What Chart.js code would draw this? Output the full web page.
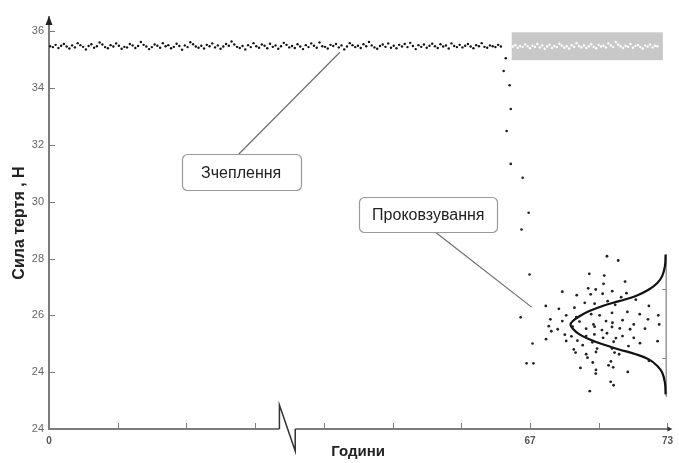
<!DOCTYPE html>
<html><head><meta charset="utf-8">
<script src="https://cdn.jsdelivr.net/npm/chart.js@4.4.1/dist/chart.umd.min.js"></script>
<style>html,body{margin:0;padding:0;background:#fff}#wrap{width:679px;height:463px}</style>
</head><body><div id="wrap"><canvas id="c" width="679" height="463"></canvas></div>
<script>
// ---- axis ticks ----
const yTickValues = [22, 24, 26, 28, 30, 32, 34, 36];
const yTickLabels = ['24', '24', '26', '28', '30', '32', '34', '36'];
const xTickValues = [46, 49, 52, 55, 58, 61, 64, 67, 70, 73];
const xTickLabels = ['0', '', '', '', '', '', '', '67', '', '73'];
const xAxisBreak = [56.06, 56.75];

// ---- grip (Зчеплення) regime: force sampled at a regular interval ----
const gripStartHour = 46.05;
const gripStepHour = 0.12;
const gripForce = [
35.47,35.44,35.52,35.41,35.49,35.55,35.46,35.39,35.50,35.43,
35.58,35.51,35.45,35.36,35.48,35.54,35.42,35.47,35.60,35.53,
35.44,35.40,35.51,35.46,35.57,35.49,35.38,35.45,35.43,35.55,
35.50,35.41,35.48,35.62,35.52,35.46,35.37,35.44,35.53,35.49,
35.42,35.58,35.47,35.51,35.40,35.45,35.56,35.48,35.35,35.50,
35.44,35.61,35.54,35.46,35.42,35.49,35.39,35.52,35.47,35.57,
35.43,35.50,35.38,35.46,35.55,35.49,35.64,35.53,35.45,35.41,
35.48,35.36,35.51,35.44,35.58,35.47,35.42,35.53,35.49,35.40,
35.56,35.45,35.50,35.38,35.47,35.59,35.52,35.43,35.48,35.41,
35.54,35.46,35.37,35.51,35.44,35.57,35.49,35.42,35.60,35.47,
35.45,35.39,35.52,35.48,35.55,35.43,35.50,35.36,35.46,35.58,
35.51,35.44,35.49,35.41,35.54,35.47,35.62,35.50,35.43,35.38,
35.48,35.53,35.45,35.57,35.42,35.49,35.40,35.52,35.46,35.55,
35.44,35.59,35.48,35.37,35.51,35.45,35.53,35.42,35.49,35.56,
35.47,35.41,35.54,35.46,35.50,35.39,35.57,35.48,35.44,35.52,
35.43,35.49,35.55,35.46,35.40,35.51,35.47,35.58,35.45,35.42,
35.50,35.47,35.44,35.52,35.46];

// ---- continued grip level shown in the grey band ----
const bandRange = [66.2, 72.8, 34.98, 35.96]; // hour from, hour to, force from, force to
const bandStartHour = 66.25;
const bandStepHour = 0.107;
const bandForce = [
35.46,35.51,35.42,35.48,35.44,35.53,35.47,35.40,35.49,35.45,
35.55,35.43,35.50,35.38,35.46,35.52,35.41,35.48,35.44,35.56,
35.49,35.42,35.47,35.39,35.51,35.45,35.58,35.48,35.43,35.50,
35.41,35.47,35.54,35.45,35.40,35.52,35.46,35.49,35.43,35.57,
35.50,35.44,35.62,35.53,35.47,35.41,35.49,35.45,35.55,35.42,
35.48,35.51,35.44,35.39,35.50,35.46,35.53,35.43,35.49,35.47];

// ---- transition drop ----
const transitionHours = [65.94,65.85,66.11,66.16,65.98,66.16,66.68,66.94,66.63,66.98,66.59,67.11,66.85,67.15];
const transitionForce = [35.05,34.60,34.10,33.26,32.49,31.33,30.84,29.61,29.02,27.44,25.93,25.01,24.31,24.31];

// ---- slip (Проковзування) cloud ----
const slipHours = [
70.36,70.85,69.59,70.24,71.15,70.21,68.41,69.54,69.87,70.59,71.21,69.04,69.65,70.17,70.98,71.62,
67.69,68.26,68.94,69.39,69.82,70.39,70.72,72.19,71.25,68.58,69.02,69.67,70.04,70.58,71.79,72.60,
67.89,68.41,69.16,69.77,70.32,70.60,71.04,71.53,72.15,67.82,68.21,68.86,69.45,69.82,70.14,70.58,
70.92,71.37,72.02,72.64,67.93,68.52,68.81,69.45,69.81,70.36,70.75,71.04,71.53,67.70,68.58,69.07,
69.72,70.19,70.65,71.30,71.80,72.57,68.91,69.30,69.93,70.58,70.89,68.99,69.45,69.88,70.69,69.51,
69.74,70.53,70.43,72.19,69.20,69.88,70.63,71.27,69.87,70.52,70.65,69.61];
const slipForce = [
28.08,27.93,27.46,27.40,27.19,27.11,26.83,26.95,26.91,26.85,26.78,26.71,26.74,26.76,26.64,26.55,
26.33,26.23,26.27,26.44,26.41,26.50,26.37,26.33,26.12,26.00,25.94,26.04,26.00,26.09,26.04,26.00,
25.86,25.80,25.78,25.68,25.80,25.74,25.83,25.68,25.86,25.62,25.51,25.60,25.53,25.60,25.48,25.59,
25.54,25.51,25.53,25.68,25.44,25.32,25.26,25.27,25.33,25.37,25.20,25.27,25.21,25.16,25.10,25.11,
25.05,25.21,25.07,24.92,25.02,25.09,24.80,24.95,24.83,24.83,24.63,24.69,24.63,24.71,24.69,24.51,
24.34,24.38,24.24,24.40,24.15,24.08,24.17,24.01,23.95,23.66,23.54,23.33];

// ---- distribution curve of the slip force ----
const bellHours = [72.92,72.89,72.77,72.56,72.19,71.62,70.89,70.17,69.59,69.16,68.87,68.77,
                   68.87,69.16,69.59,70.17,70.89,71.62,72.19,72.56,72.77,72.89,72.92];
const bellForce = [28.14,27.73,27.38,27.14,26.91,26.68,26.50,26.33,26.15,25.97,25.80,25.68,
                   25.53,25.33,25.16,24.98,24.80,24.63,24.45,24.22,23.99,23.63,23.22];
const bellAxisHour = 72.95;
const bellAxisForce = [28.13, 23.13];
const bellAxisTicks = [26.94, 24.49];

// ---- callouts ----
const calloutText = ['Зчеплення', 'Проковзування'];
const calloutHour = [54.39, 62.56];
const calloutForce = [31.04, 29.55];
const leaderFromHour = [54.28, 62.86];
const leaderFromForce = [31.67, 28.93];
const leaderToHour = [58.70, 67.07];
const leaderToForce = [35.26, 26.29];

// ---- build datasets ----
const gripPts = gripForce.map((v, i) => ({x: gripStartHour + i * gripStepHour, y: v}));
const bandPts = bandForce.map((v, i) => ({x: bandStartHour + i * bandStepHour, y: v}));
const transPts = transitionHours.map((h, i) => ({x: h, y: transitionForce[i]}));
const slipPts = slipHours.map((h, i) => ({x: h, y: slipForce[i]}));
const bellPts = bellHours.map((h, i) => ({x: h, y: bellForce[i]}));
const bellAxisPts = bellAxisForce.map(f => ({x: bellAxisHour, y: f}));

const FONT = '"Liberation Sans", Arial, sans-serif';
const AXIS_COLOR = '#7c7c7c';

const decor = {
  id: 'decor',
  beforeDatasetsDraw(chart) {
    const {ctx, scales: {x, y}} = chart;
    ctx.save();
    ctx.fillStyle = '#c8c8c8';
    const x0 = x.getPixelForValue(bandRange[0]), x1 = x.getPixelForValue(bandRange[1]);
    const y0 = y.getPixelForValue(bandRange[3]), y1 = y.getPixelForValue(bandRange[2]);
    ctx.fillRect(x0, y0, x1 - x0, y1 - y0);
    ctx.restore();
  },
  afterDatasetsDraw(chart) {
    const {ctx, scales: {x, y}} = chart;
    ctx.save();
    // bell axis ticks
    ctx.strokeStyle = '#888';
    ctx.lineWidth = 1;
    bellAxisTicks.forEach(f => {
      const py = Math.round(y.getPixelForValue(f)) + 0.5;
      const px = x.getPixelForValue(bellAxisHour);
      ctx.beginPath(); ctx.moveTo(px - 4, py); ctx.lineTo(px, py); ctx.stroke();
    });
    // callouts
    const sizes = [[119, 36], [138, 35]];
    calloutText.forEach((t, i) => {
      ctx.strokeStyle = '#6e6e6e';
      ctx.lineWidth = 1.2;
      ctx.beginPath();
      ctx.moveTo(x.getPixelForValue(leaderFromHour[i]), y.getPixelForValue(leaderFromForce[i]));
      ctx.lineTo(x.getPixelForValue(leaderToHour[i]), y.getPixelForValue(leaderToForce[i]));
      ctx.stroke();
      const cx = x.getPixelForValue(calloutHour[i]), cy = y.getPixelForValue(calloutForce[i]);
      const [w, h] = sizes[i];
      ctx.beginPath();
      ctx.roundRect(Math.round(cx - w / 2) + 0.5, Math.round(cy - h / 2) + 0.5, w, h, 5);
      ctx.fillStyle = '#fff';
      ctx.fill();
      ctx.strokeStyle = '#9a9a9a';
      ctx.lineWidth = 1.2;
      ctx.stroke();
      ctx.fillStyle = '#222';
      ctx.font = '16px ' + FONT;
      ctx.textAlign = 'center';
      ctx.textBaseline = 'middle';
      ctx.fillText(t, cx, cy + 1);
    });
    ctx.restore();
  },
  afterDraw(chart) {
    const {ctx, chartArea: a, scales: {x, y}} = chart;
    ctx.save();
    ctx.strokeStyle = AXIS_COLOR;
    // y arrow
    ctx.beginPath();
    ctx.moveTo(a.left, a.top - 1);
    ctx.lineTo(a.left - 3.5, a.top + 8);
    ctx.lineTo(a.left + 3.5, a.top + 8);
    ctx.closePath();
    ctx.fillStyle = '#222';
    ctx.fill();
    // y inner ticks
    ctx.lineWidth = 1;
    yTickValues.forEach(v => {
      const py = Math.round(y.getPixelForValue(v)) + 0.5;
      ctx.beginPath(); ctx.moveTo(a.left + 1, py); ctx.lineTo(a.left + 6, py); ctx.stroke();
    });
    // x axis with break
    const b0 = x.getPixelForValue(xAxisBreak[0]), b1 = x.getPixelForValue(xAxisBreak[1]);
    const yb = a.bottom;
    ctx.lineWidth = 2;
    ctx.beginPath();
    ctx.moveTo(a.left - 1, yb); ctx.lineTo(b0, yb);
    ctx.moveTo(b1, yb); ctx.lineTo(a.right + 2, yb);
    ctx.stroke();
    ctx.strokeStyle = '#333';
    ctx.lineWidth = 1.5;
    ctx.beginPath();
    ctx.moveTo(b0, yb); ctx.lineTo(b0, yb - 24); ctx.lineTo(b1, yb + 22); ctx.lineTo(b1, yb);
    ctx.stroke();
    // x inner ticks
    ctx.strokeStyle = AXIS_COLOR;
    ctx.lineWidth = 1;
    xTickValues.forEach((v, i) => {
      if (i === 0) return;
      const px = Math.round(x.getPixelForValue(v)) + 0.5;
      ctx.beginPath(); ctx.moveTo(px, yb - 1); ctx.lineTo(px, yb - 6); ctx.stroke();
    });
    // x end arrow
    ctx.fillStyle = '#333';
    ctx.beginPath();
    ctx.moveTo(a.right + 5, yb);
    ctx.lineTo(a.right, yb - 2.5);
    ctx.lineTo(a.right, yb + 2.5);
    ctx.closePath();
    ctx.fill();
    ctx.restore();
  }
};

new Chart(document.getElementById('c'), {
  type: 'scatter',
  data: {
    datasets: [
      {label: 'grip', data: gripPts, pointRadius: 1.2, pointBackgroundColor: '#111', pointBorderWidth: 0},
      {label: 'band', data: bandPts, pointRadius: 1.2, pointBackgroundColor: '#fff', pointBorderWidth: 0},
      {label: 'transition', data: transPts, pointRadius: 1.3, pointBackgroundColor: '#222', pointBorderWidth: 0},
      {label: 'slip', data: slipPts, pointRadius: 1.4, pointBackgroundColor: '#222', pointBorderWidth: 0},
      {label: 'bell', data: bellPts, showLine: true, tension: 0.4, borderColor: '#111', borderWidth: 2.2, pointRadius: 0},
      {label: 'bellAxis', data: bellAxisPts, showLine: true, borderColor: '#9a9a9a', borderWidth: 1, pointRadius: 0}
    ]
  },
  options: {
    responsive: false,
    animation: false,
    devicePixelRatio: 1,
    layout: {autoPadding: false, padding: {left: 0, right: 7, top: 17, bottom: 0}},
    plugins: {legend: {display: false}, tooltip: {enabled: false}},
    scales: {
      x: {
        type: 'linear', min: 46, max: 73,
        afterBuildTicks: s => { s.ticks = xTickValues.map(v => ({value: v})); },
        afterFit: s => { s.height = 34; },
        grid: {display: false, drawTicks: false},
        border: {display: false},
        ticks: {
          autoSkip: false, maxRotation: 0, padding: 6,
          color: '#555', font: {family: FONT, size: 10, weight: 'bold'},
          callback: (v, i) => xTickLabels[i]
        },
        title: {display: true, text: 'Години', color: '#222', padding: {top: 0, bottom: 2},
                font: {family: FONT, size: 15, weight: 'bold'}}
      },
      y: {
        type: 'linear', min: 22, max: 36.5,
        afterBuildTicks: s => { s.ticks = yTickValues.map(v => ({value: v})); },
        afterFit: s => { s.width = 49; },
        grid: {display: false, drawTicks: false},
        border: {display: true, color: AXIS_COLOR, width: 2},
        ticks: {
          autoSkip: false, padding: 5,
          color: '#666', font: {family: FONT, size: 11},
          callback: (v, i) => yTickLabels[i]
        },
        title: {display: true, text: 'Сила тертя , Н', color: '#222', padding: {top: 10, bottom: 0},
                font: {family: FONT, size: 16, weight: 'bold'}}
      }
    }
  },
  plugins: [decor]
});
</script>
</body></html>
